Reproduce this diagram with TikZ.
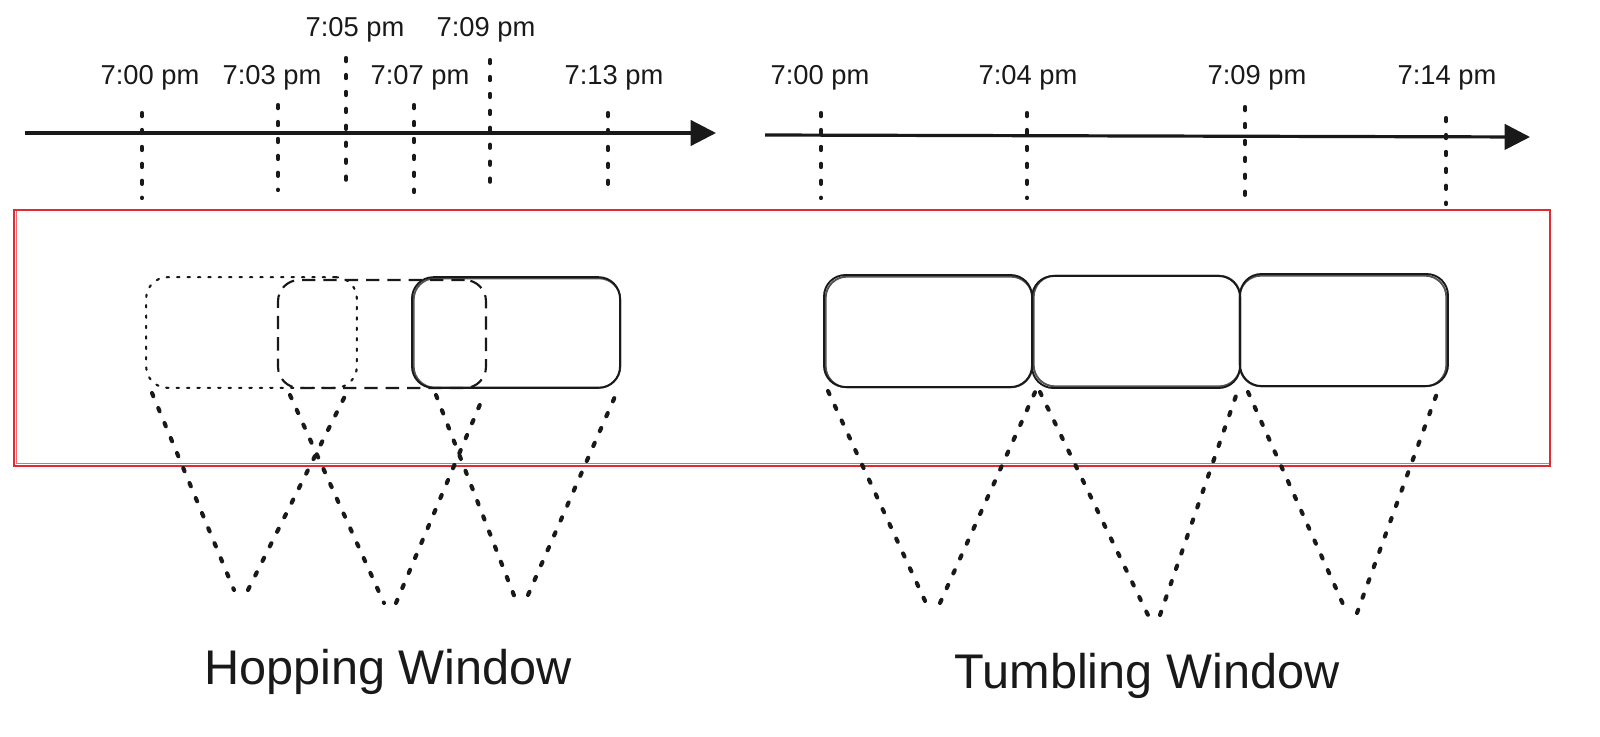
\documentclass[tikz,border=0pt]{standalone}
\usepackage{fontspec}
\setmainfont{Liberation Sans}
\usetikzlibrary{arrows.meta}
\definecolor{framered}{RGB}{226,42,50}
\definecolor{ink}{RGB}{25,25,25}
\begin{document}
\begin{tikzpicture}[x=0.75pt,y=-0.75pt,
  axis/.style={draw=ink,line width=2.4pt,-{Triangle[length=19pt,width=19pt]}},
  tickline/.style={draw=ink,line width=3.1pt,line cap=round,dash pattern=on 2.4pt off 10.3pt},
  vline/.style={draw=ink,line width=3.1pt,line cap=round,dash pattern=on 2.6pt off 9.6pt},
  tlabel/.style={font=\fontsize{20.5}{24}\selectfont,text=ink,inner sep=0pt},
  biglabel/.style={font=\fontsize{36.5}{42}\selectfont,text=ink,inner sep=0pt},
  wbox/.style={draw=ink,line width=1.4pt,rounded corners=16pt,inner sep=0pt,minimum width=156pt,minimum height=84pt},
  frame/.style={draw=framered,line width=1pt,inner sep=0pt}]
\useasboundingbox (0,0) rectangle (1600,736);

% red frame (sketchy double stroke)
\node[frame,minimum width=1152pt,minimum height=192pt] (frame) at (782,338) {};
\node[frame,minimum width=1150pt,minimum height=190pt,draw opacity=0.7] (frameb) at (783,337) {};

% timelines
\coordinate (la) at (25,133);
\coordinate (lb) at (716,133);
\coordinate (ra) at (765,135);
\coordinate (rb) at (1530,137);
\draw[axis] (la) -- (lb);
\draw[axis] (ra) -- (rb);

% left ticks
\foreach \n/\x/\ya/\yb in {a/142/113/198,b/278/105/190,c/346/58/192,d/414/105/192,e/490/60/195,f/608/113/196}{
  \coordinate (lt\n1) at (\x,\ya);
  \coordinate (lt\n2) at (\x,\yb);
  \draw[tickline] (lt\n1) -- (lt\n2);
}
% right ticks
\foreach \n/\x/\ya/\yb in {a/821/113/198,b/1027/113/198,c/1245/107/195,d/1446/118/204}{
  \coordinate (rt\n1) at (\x,\ya);
  \coordinate (rt\n2) at (\x,\yb);
  \draw[tickline] (rt\n1) -- (rt\n2);
}

% time labels
\node[tlabel] (l700) at (150,78) {7:00 pm};
\node[tlabel] (l703) at (272,78) {7:03 pm};
\node[tlabel] (l705) at (355,30) {7:05 pm};
\node[tlabel] (l707) at (420,78) {7:07 pm};
\node[tlabel] (l709) at (486,30) {7:09 pm};
\node[tlabel] (l713) at (614,78) {7:13 pm};
\node[tlabel] (r700) at (820,78) {7:00 pm};
\node[tlabel] (r704) at (1028,78) {7:04 pm};
\node[tlabel] (r709) at (1257,78) {7:09 pm};
\node[tlabel] (r714) at (1447,78) {7:14 pm};

% hopping windows
\node[wbox,line width=1.6pt,line cap=round,dash pattern=on 1.8pt off 6pt,minimum width=158pt,minimum height=83pt] (h1) at (251.5,332.5) {};
\node[wbox,line width=1.6pt,dash pattern=on 10pt off 6pt,minimum width=156pt,minimum height=81pt] (h2) at (382,334) {};
\node[wbox,minimum width=156pt,minimum height=83pt] (h3) at (516,332.5) {};
\node[wbox,minimum width=155pt,minimum height=82pt,draw opacity=0.75] (h3b) at (517,333) {};

% tumbling windows
\node[wbox] (t1) at (928,331) {};
\node[wbox,minimum width=155pt,minimum height=83pt,draw opacity=0.75] (t1b) at (929,332) {};
\node[wbox] (t2) at (1136,332) {};
\node[wbox,minimum width=155pt,minimum height=83pt,draw opacity=0.75] (t2b) at (1137,331) {};
\node[wbox] (t3) at (1344,330) {};
\node[wbox,minimum width=155pt,minimum height=83pt,draw opacity=0.75] (t3b) at (1343,331) {};

% hopping V lines
\coordinate (hv1a) at (152,393); \coordinate (hv1b) at (234,590);
\coordinate (hv1c) at (248,590); \coordinate (hv1d) at (347,392);
\coordinate (hv2a) at (290,395); \coordinate (hv2b) at (384,603);
\coordinate (hv2c) at (396,603); \coordinate (hv2d) at (484,395);
\coordinate (hv3a) at (436,395); \coordinate (hv3b) at (515,598);
\coordinate (hv3c) at (528,595); \coordinate (hv3d) at (617,392);
\draw[vline] (hv1a) -- (hv1b);
\draw[vline] (hv1c) -- (hv1d);
\draw[vline] (hv2a) -- (hv2b);
\draw[vline] (hv2c) -- (hv2d);
\draw[vline] (hv3a) -- (hv3b);
\draw[vline] (hv3c) -- (hv3d);

% tumbling V lines
\coordinate (tv1a) at (828,391); \coordinate (tv1b) at (926,603);
\coordinate (tv1c) at (940,603); \coordinate (tv1d) at (1036,390);
\coordinate (tv2a) at (1040,392); \coordinate (tv2b) at (1148,615);
\coordinate (tv2c) at (1160,615); \coordinate (tv2d) at (1238,390);
\coordinate (tv3a) at (1248,392); \coordinate (tv3b) at (1347,613);
\coordinate (tv3c) at (1357,613); \coordinate (tv3d) at (1440,385);
\draw[vline] (tv1a) -- (tv1b);
\draw[vline] (tv1c) -- (tv1d);
\draw[vline] (tv2a) -- (tv2b);
\draw[vline] (tv2c) -- (tv2d);
\draw[vline] (tv3a) -- (tv3b);
\draw[vline] (tv3c) -- (tv3d);

% titles
\node[biglabel] (hop) at (388,672) {Hopping Window};
\node[biglabel] (tum) at (1147,676) {Tumbling Window};
\end{tikzpicture}
\end{document}
